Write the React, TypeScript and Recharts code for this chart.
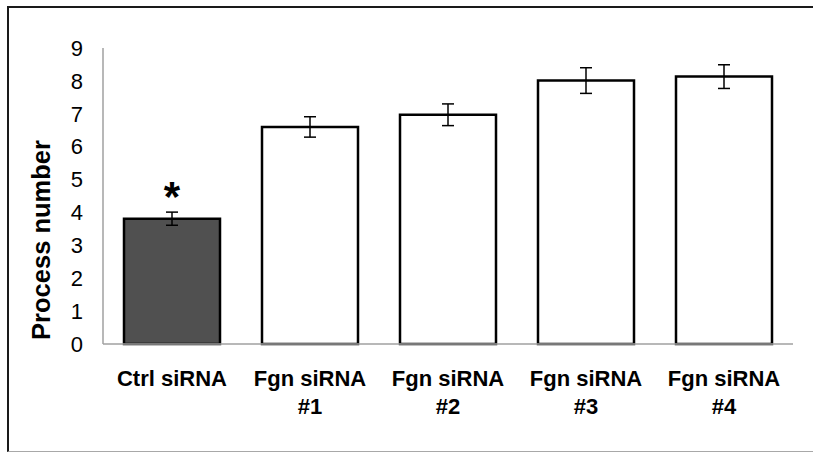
import { BarChart, Bar, XAxis, YAxis, ErrorBar, Cell, LabelList, Label } from 'recharts';

const groups = ['Ctrl siRNA', 'Fgn siRNA #1', 'Fgn siRNA #2', 'Fgn siRNA #3', 'Fgn siRNA #4'];
const processNumber = [3.81, 6.6, 6.97, 8.01, 8.13];
const processErr = [0.2, 0.31, 0.33, 0.39, 0.36];
const significance = ['*', '', '', '', ''];
const yTicks = [0, 1, 2, 3, 4, 5, 6, 7, 8, 9];

const data = groups.map((g, i) => ({
  group: g,
  value: processNumber[i],
  err: processErr[i],
  sig: significance[i],
}));

const FONT = '"Liberation Sans", Arial, sans-serif';

const GroupTick = (props: any) => {
  const { x, payload } = props;
  const text: string = payload.value;
  const idx = text.indexOf(' #');
  const lines = idx >= 0 ? [text.slice(0, idx), text.slice(idx + 1)] : [text];
  return (
    <g>
      {lines.map((l, i) => (
        <text
          key={i}
          x={x}
          y={386 + i * 28}
          textAnchor="middle"
          fontFamily={FONT}
          fontWeight="bold"
          fontSize={22}
          fill="#000"
        >
          {l}
        </text>
      ))}
    </g>
  );
};

const SigMark = (props: any) => {
  const { x, y, width, value } = props;
  if (!value) return null;
  return (
    <text
      x={x + width / 2}
      y={y - 8}
      textAnchor="middle"
      fontFamily={FONT}
      fontWeight="bold"
      fontSize={42}
      fill="#000"
    >
      {value}
    </text>
  );
};

const YTitle = () => (
  <text
    transform="translate(41,240) rotate(-90)"
    textAnchor="middle"
    dominantBaseline="central"
    fontFamily={FONT}
    fontWeight="bold"
    fontSize={25.5}
    fill="#000"
  >
    Process number
  </text>
);

export default function App() {
  return (
    <div style={{ position: 'absolute', left: 0, top: 0, width: 813, height: 453, background: '#fff' }}>
      <div
        style={{
          position: 'absolute',
          left: 7,
          top: 6,
          width: 806,
          height: 446,
          borderLeft: '2px solid #1a1a1a',
          borderTop: '2px solid #1a1a1a',
          borderBottom: '1px solid #a8a8a8',
          boxSizing: 'border-box',
        }}
      />
      <div style={{ position: 'absolute', left: 0, top: 0 }}>
        <BarChart width={813} height={453} data={data} margin={{ top: 48, right: 20, left: 0, bottom: 0 }}>
          <XAxis
            dataKey="group"
            height={109}
            axisLine={{ stroke: '#a0a0a0', strokeWidth: 1.5 }}
            tickLine={false}
            tick={<GroupTick />}
            interval={0}
          />
          <YAxis
            width={103}
            domain={[0, 9]}
            ticks={yTicks}
            interval={0}
            axisLine={{ stroke: '#a0a0a0', strokeWidth: 1.5 }}
            tickLine={false}
            tickSize={6}
            tickMargin={14}
            tick={{ fontFamily: FONT, fontSize: 22, fill: '#000' }}
          >
            <Label content={<YTitle />} />
          </YAxis>
          <Bar dataKey="value" barSize={96} stroke="#000" strokeWidth={2.5} isAnimationActive={false}>
            {data.map((d, i) => (
              <Cell key={d.group} fill={i === 0 ? '#505050' : '#ffffff'} />
            ))}
            <ErrorBar dataKey="err" width={6} stroke="#000" strokeWidth={1.5} />
            <LabelList dataKey="sig" content={<SigMark />} />
          </Bar>
        </BarChart>
      </div>
    </div>
  );
}
